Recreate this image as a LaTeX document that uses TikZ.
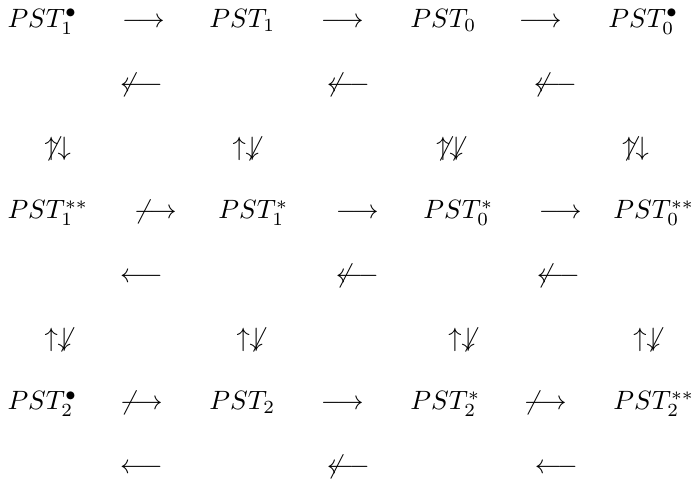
\documentclass[tikz,border=0pt]{standalone}
\begin{document}
\begin{tikzpicture}[x=0.3774pt,y=-0.3774pt,
  sym/.style={inner sep=0pt,outer sep=0pt,anchor=base west}]
\useasboundingbox (0,0) rectangle (691,481);
% row baselines: axis + 6.6
% Row 1 (axis 21)
\node[sym] (a1) at (7.5,27.6)   {$PST_1^\bullet$};
\node[sym] (a2) at (122,27.6)   {$\longrightarrow$};
\node[sym] (a3) at (209.5,27.6) {$PST_1$};
\node[sym] (a4) at (321,27.6)   {$\longrightarrow$};
\node[sym] (a5) at (410.5,27.6) {$PST_0$};
\node[sym] (a6) at (519,27.6)   {$\longrightarrow$};
\node[sym] (a7) at (608.5,27.6) {$PST_0^\bullet$};
% Row 2 (axis 84.7)
\node[sym] (b1) at (120,91.3) {$\not\longleftarrow$};
\node[sym] (b2) at (327,91.3) {$\not\longleftarrow$};
\node[sym] (b3) at (534,91.3) {$\not\longleftarrow$};
% Row 3 (axis 148.4)
\node[sym] (c1) at (44.5,155)  {$\not\uparrow\downarrow$};
\node[sym] (c2) at (232.5,155) {$\uparrow\not\downarrow$};
\node[sym] (c3) at (436.5,155) {$\not\uparrow\not\downarrow$};
\node[sym] (c4) at (622.5,155) {$\not\uparrow\downarrow$};
% Row 4 (axis 212.1)
\node[sym] (d1) at (7.5,218.7)   {$PST_1^{**}$};
\node[sym] (d2) at (134,218.7)   {$\not\longrightarrow$};
\node[sym] (d3) at (218.5,218.7) {$PST_1^{*}$};
\node[sym] (d4) at (336,218.7)   {$\longrightarrow$};
\node[sym] (d5) at (423.5,218.7) {$PST_0^{*}$};
\node[sym] (d6) at (539,218.7)   {$\longrightarrow$};
\node[sym] (d7) at (613.5,218.7) {$PST_0^{**}$};
% Row 5 (axis 275.8)
\node[sym] (e1) at (120,282.4) {$\longleftarrow$};
\node[sym] (e2) at (336,282.4) {$\not\longleftarrow$};
\node[sym] (e3) at (537,282.4) {$\not\longleftarrow$};
% Row 6 (axis 339.5)
\node[sym] (f1) at (44.5,346.1)  {$\uparrow\not\downarrow$};
\node[sym] (f2) at (236.5,346.1) {$\uparrow\not\downarrow$};
\node[sym] (f3) at (448.5,346.1) {$\uparrow\not\downarrow$};
\node[sym] (f4) at (633.5,346.1) {$\uparrow\not\downarrow$};
% Row 7 (axis 403.2)
\node[sym] (g1) at (7.5,409.8)   {$PST_2^\bullet$};
\node[sym] (g2) at (120,409.8)   {$\not\longrightarrow$};
\node[sym] (g3) at (209.5,409.8) {$PST_2$};
\node[sym] (g4) at (321,409.8)   {$\longrightarrow$};
\node[sym] (g5) at (410.5,409.8) {$PST_2^{*}$};
\node[sym] (g6) at (524,409.8)   {$\not\longrightarrow$};
\node[sym] (g7) at (613.5,409.8) {$PST_2^{**}$};
% Row 8 (axis 466.9)
\node[sym] (h1) at (120,473.5) {$\longleftarrow$};
\node[sym] (h2) at (327,473.5) {$\not\longleftarrow$};
\node[sym] (h3) at (535,473.5) {$\longleftarrow$};
\end{tikzpicture}
\end{document}
